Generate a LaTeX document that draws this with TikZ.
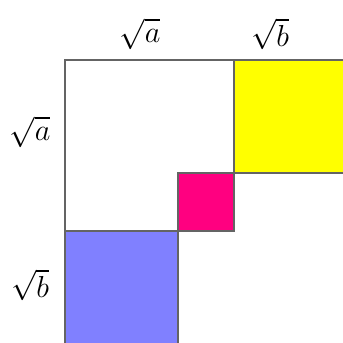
\documentclass[tikz,border=0pt]{standalone}
\usepackage{tikz}
\usepackage{amsmath}
\usepackage{xcolor}
\definecolor{amarillo}{RGB}{255,255,0}
\definecolor{rosa}{RGB}{255,0,128}
\definecolor{azul}{RGB}{128,128,255}
\definecolor{borde}{RGB}{100,100,100}

\begin{document}
\begin{tikzpicture}[x=0.02cm, y=-0.02cm, lado/.style={draw=borde, line width=1pt}, etiqueta/.style={font=\LARGE}]
		\useasboundingbox (0,0) rectangle (343,343);
		% Cuadrados de colores
		\fill[amarillo] (234,60) rectangle (343,173);
		\fill[azul] (65,231) rectangle (178,343);
		\draw[lado, fill=rosa] (178,173) rectangle (234,231);
		% Bordes del cuadrado grande
		\draw[lado] (343,60) -- (65,60) -- (65,343);
		\draw[lado] (234,60) -- (234,173) -- (343,173);
		\draw[lado] (65,231) -- (178,231) -- (178,343);
		% Lados
		\node[etiqueta] (sa) at (140,34) {\(\sqrt{a}\)};
		\node[etiqueta] (sb) at (270,34) {\(\sqrt{b}\)};
		\node[etiqueta] (la) at (30,132) {\(\sqrt{a}\)};
		\node[etiqueta] (lb) at (30,285) {\(\sqrt{b}\)};
	\end{tikzpicture}
\end{document}
